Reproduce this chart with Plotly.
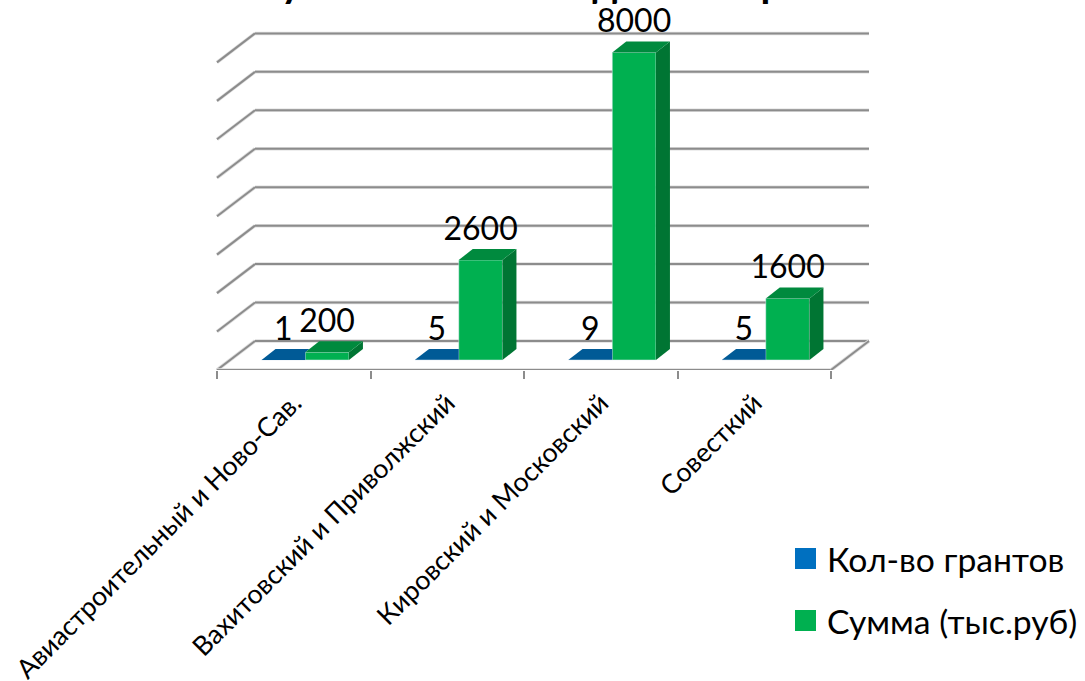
import plotly.graph_objects as go

categories = ["Авиастроительный и Ново-Сав.", "Вахитовский и Приволжский", "Кировский и Московский", "Совесткий"]
grants = [1, 5, 9, 5]
amounts = [200, 2600, 8000, 1600]
grid_values = [0, 1000, 2000, 3000, 4000, 5000, 6000, 7000, 8000]
title_text = "Сумма и число выданных грантов"

W, H = 1085, 681
PX_X0, CAT_W = 217.0, 153.5      # px of category 0, px per category
PX_Y0, PX_PER_1000 = 360.0, 38.45 # px of value 0 at the bar front
PLOT_L, PLOT_R, PLOT_T, PLOT_B = 200, 880, 0, 370


def ux(px):
    return px / CAT_W


def uy(px):
    return px / PX_PER_1000 * 1000


bar_w = ux(43.7)
bar_shift = ux(11.5)
bar_dx, bar_dy = ux(14), uy(11)
wall_dx, wall_dy = ux(38), uy(29)
front_y = -uy(10)

GRID = "#8c8c8c"
traces = []
blue_x = [i + 0.5 + bar_shift - bar_w / 2 for i in range(4)]
green_x = [i + 0.5 + bar_shift + bar_w / 2 for i in range(4)]

traces.append(go.Bar(x=blue_x, y=grants, width=bar_w, name="Кол-во грантов", marker_color="#0070c0"))
traces.append(go.Bar(x=green_x, y=amounts, width=bar_w, name="Сумма (тыс.руб)", marker_color="#00b050"))


def face(xs, ys, colour):
    return go.Scatter(x=xs, y=ys, mode="lines", fill="toself", fillcolor=colour,
                      line=dict(width=0), hoverinfo="skip", showlegend=False)


for cx, v, gv in zip(blue_x, grants, amounts):
    l, r = cx - bar_w / 2, cx + bar_w / 2
    h = min(gv, bar_dy)
    traces.append(face([l, r, r, r + bar_dx * (bar_dy - h) / bar_dy, l + bar_dx, l],
                       [v, v, h, bar_dy, bar_dy, v], "#005a96"))
for cx, v in zip(green_x, amounts):
    l, r = cx - bar_w / 2, cx + bar_w / 2
    traces.append(face([r, r + bar_dx, r + bar_dx, r, r], [0, bar_dy, v + bar_dy, v, 0], "#007533"))
    traces.append(face([l, r, r + bar_dx, l + bar_dx, l], [v, v, v + bar_dy, v + bar_dy, v], "#008a3e"))

label_off = uy(28.5)
LABEL_FONT = dict(family="Lato", size=32, color="#000000")
traces.append(go.Scatter(x=blue_x, y=[label_off] * 4, mode="text", text=[str(v) for v in grants],
                         textposition="middle center", textfont=LABEL_FONT, cliponaxis=False,
                         hoverinfo="skip", showlegend=False))
traces.append(go.Scatter(x=green_x, y=[v + label_off for v in amounts], mode="text",
                         text=[str(v) for v in amounts], textposition="middle center",
                         textfont=LABEL_FONT, cliponaxis=False, hoverinfo="skip", showlegend=False))

shapes = []


def seg(x0, y0, x1, y1):
    shapes.append(dict(type="line", xref="x", yref="y", layer="below", x0=x0, y0=y0, x1=x1, y1=y1,
                       line=dict(color="#dedede", width=3.5)))
    shapes.append(dict(type="line", xref="x", yref="y", layer="below", x0=x0, y0=y0, x1=x1, y1=y1,
                       line=dict(color=GRID, width=2)))


for g in grid_values:
    yb = g + front_y + wall_dy
    seg(0, g + front_y, wall_dx, yb)
    seg(wall_dx, yb, 4 + wall_dx, yb)
seg(0, front_y, 4, front_y)
seg(4, front_y, 4 + wall_dx, front_y + wall_dy)


def px(v):
    return (v - PLOT_L) / (PLOT_R - PLOT_L)


def py(v):
    return (PLOT_B - v) / (PLOT_B - PLOT_T)


annotations = []
for (name, colour, cy) in [("Кол-во грантов", "#0070c0", 558.5), ("Сумма (тыс.руб)", "#00b050", 620.5)]:
    shapes.append(dict(type="rect", xref="paper", yref="paper", x0=px(795), x1=px(816),
                       y0=py(cy + 10.5), y1=py(cy - 10.5), fillcolor=colour, line=dict(width=0)))
    annotations.append(dict(xref="paper", yref="paper", x=px(825), y=py(cy), text=name, showarrow=False,
                            xanchor="left", yanchor="middle",
                            font=dict(family="Lato", size=33.7, color="#000000")))
annotations.append(dict(xref="paper", yref="paper", x=px(572), y=py(-18), text="<b>" + title_text + "</b>",
                        showarrow=False, xanchor="center", yanchor="middle",
                        font=dict(family="Lato", size=40, color="#000000")))

fig = go.Figure(traces)
fig.update_layout(
    width=W, height=H, autosize=False, showlegend=False, barmode="overlay",
    paper_bgcolor="#ffffff", plot_bgcolor="rgba(0,0,0,0)",
    margin=dict(l=PLOT_L, r=W - PLOT_R, t=PLOT_T, b=H - PLOT_B, pad=0, autoexpand=False),
    shapes=shapes, annotations=annotations,
    font=dict(family="Lato", color="#000000"),
)
fig.update_xaxes(range=[ux(PLOT_L - PX_X0), ux(PLOT_R - PX_X0)], tickvals=[i + 0.5 for i in range(4)],
                 ticktext=categories, tickangle=-45, ticks="", showgrid=False, zeroline=False,
                 showline=False, tickfont=dict(family="Lato", size=26.7, color="#000000"),
                 ticklabelstandoff=11, automargin=False,
                 minor=dict(tick0=0, dtick=1, ticks="outside", ticklen=8, tickcolor=GRID, tickwidth=2, showgrid=False))
fig.update_yaxes(range=[-(PLOT_B - PX_Y0) / PX_PER_1000 * 1000, (PX_Y0 - PLOT_T) / PX_PER_1000 * 1000],
                 showticklabels=False, ticks="", showgrid=False, zeroline=False, showline=False, automargin=False)
fig.write_html("out.html", config=dict(displayModeBar=False),
               post_script="document.body.style.margin='0';document.body.style.overflow='hidden';")
